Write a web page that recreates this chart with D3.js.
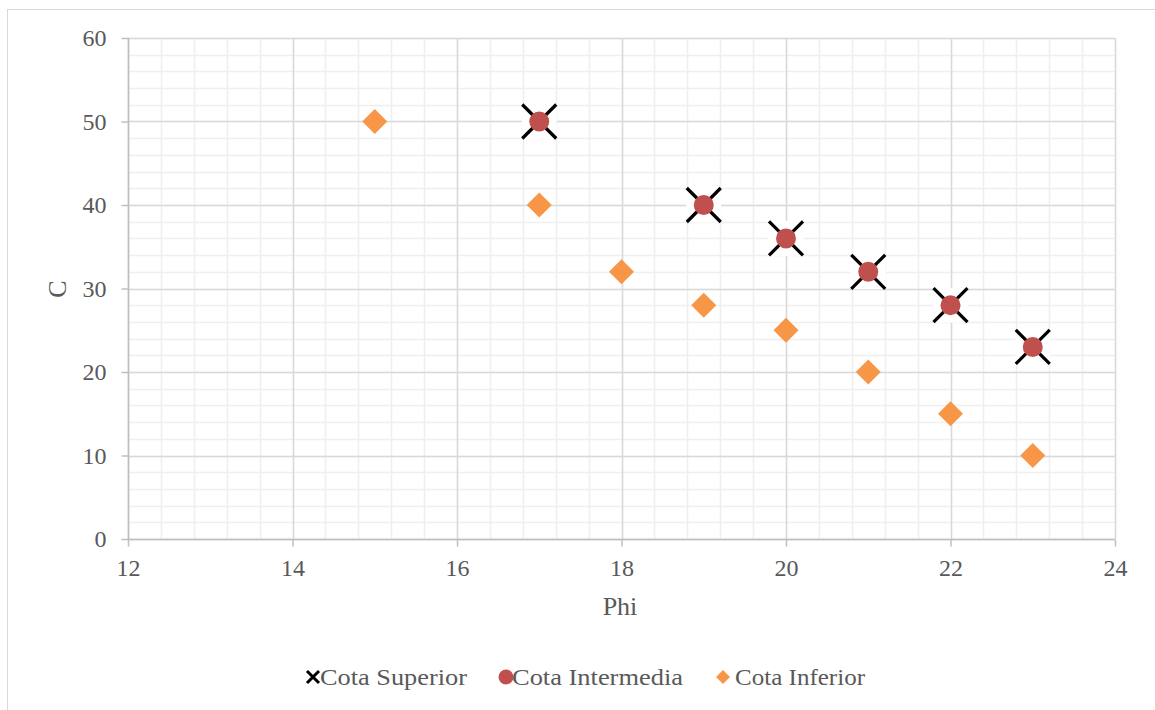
<!DOCTYPE html>
<html>
<head>
<meta charset="utf-8">
<script src="https://cdn.jsdelivr.net/npm/d3@7"></script>
<style>
  body { margin: 0; background: #fff; }
  text { font-family: "Liberation Serif", "DejaVu Serif", serif; fill: #595959; }
</style>
</head>
<body>
<div id="chart"></div>
<script>
// data
let supX = [17, 19, 20, 21, 22, 23];
let supY = [50, 40, 36, 32, 28, 23];
let intX = [17, 19, 20, 21, 22, 23];
let intY = [50, 40, 36, 32, 28, 23];
let infX = [15, 17, 18, 19, 20, 21, 22, 23];
let infY = [50, 40, 32, 28, 25, 20, 15, 10];
let xTicks = [12, 14, 16, 18, 20, 22, 24];
let yTicks = [0, 10, 20, 30, 40, 50, 60];
let seriesNames = ["Cota Superior", "Cota Intermedia", "Cota Inferior"];

let width = 1155, height = 710;
let margin = {top: 38, left: 128, right: 40, bottom: 171};
let plotW = width - margin.left - margin.right;
let plotH = height - margin.top - margin.bottom;

let svg = d3.select("#chart").append("svg")
    .attr("width", width)
    .attr("height", height);

// outer chart frame (runs off the page at right and bottom)
svg.append("rect")
    .attr("x", 7.5).attr("y", 9.5)
    .attr("width", 1160).attr("height", 720)
    .attr("fill", "#fff").attr("stroke", "#d9d9d9");

let x = d3.scaleLinear().domain([12, 24]).range([margin.left, margin.left + plotW]);
let y = d3.scaleLinear().domain([0, 60]).range([margin.top + plotH, margin.top]);

let g = svg.append("g");

// minor grid
let xMinor = d3.range(12, 24.001, 0.4);
let yMinor = d3.range(0, 60.001, 2);
g.selectAll("line.xm").data(xMinor).enter().append("line")
    .attr("x1", d => Math.round(x(d)) + 0.5).attr("x2", d => Math.round(x(d)) + 0.5)
    .attr("y1", y(0)).attr("y2", y(60))
    .attr("stroke", "#efefef").attr("stroke-width", 1.5);
g.selectAll("line.ym").data(yMinor).enter().append("line")
    .attr("y1", d => Math.round(y(d)) + 0.5).attr("y2", d => Math.round(y(d)) + 0.5)
    .attr("x1", x(12)).attr("x2", x(24))
    .attr("stroke", "#efefef").attr("stroke-width", 1.5);

// major grid
g.selectAll("line.xg").data(xTicks).enter().append("line")
    .attr("x1", d => Math.round(x(d)) + 0.5).attr("x2", d => Math.round(x(d)) + 0.5)
    .attr("y1", y(0)).attr("y2", y(60))
    .attr("stroke", "#d9d9d9").attr("stroke-width", 1.5);
g.selectAll("line.yg").data(yTicks).enter().append("line")
    .attr("y1", d => Math.round(y(d)) + 0.5).attr("y2", d => Math.round(y(d)) + 0.5)
    .attr("x1", x(12)).attr("x2", x(24))
    .attr("stroke", "#d9d9d9").attr("stroke-width", 1.5);

// axes
let xAxis = d3.axisBottom(x).tickValues(xTicks).tickSize(7).tickPadding(12);
let yAxis = d3.axisLeft(y).tickValues(yTicks).tickSize(7).tickPadding(15);

let gx = svg.append("g").attr("transform", "translate(0," + (Math.round(y(0)) + 0.5) + ")").call(xAxis);
let gy = svg.append("g").attr("transform", "translate(" + (Math.round(x(12)) + 0.5) + ",0)").call(yAxis);
[gx, gy].forEach(a => {
    a.select(".domain").attr("stroke", "#bfbfbf").attr("stroke-width", 1.5);
    a.selectAll(".tick line").attr("stroke", "#bfbfbf").attr("stroke-width", 1.5);
    a.selectAll(".tick text").style("font-family", "Liberation Serif, serif")
        .attr("font-size", 24).attr("fill", "#595959");
});
gx.select(".domain").attr("d", "M" + x(12) + ",0H" + x(24));
gy.select(".domain").attr("d", "M0," + y(0) + "V" + y(60));

// axis titles
svg.append("text").attr("x", 620).attr("y", 615)
    .attr("text-anchor", "middle").attr("font-size", 26).text("Phi");
svg.append("text").attr("transform", "translate(66,289) rotate(-90)")
    .attr("text-anchor", "middle").attr("font-size", 26).text("C");

let sup = supX.map((v, i) => [v, supY[i]]);
let mid = intX.map((v, i) => [v, intY[i]]);
let inf = infX.map((v, i) => [v, infY[i]]);

// Cota Inferior - diamonds
svg.append("g").selectAll("path").data(inf).enter().append("path")
    .attr("transform", d => "translate(" + x(d[0]) + "," + y(d[1]) + ")")
    .attr("d", "M0,-12.5L12.5,0L0,12.5L-12.5,0Z")
    .attr("fill", "#f79646");

// Cota Superior - X with white backing
let xs = svg.append("g").selectAll("g").data(sup).enter().append("g")
    .attr("transform", d => "translate(" + x(d[0]) + "," + y(d[1]) + ")");
xs.append("rect").attr("x", -17.5).attr("y", -17.5).attr("width", 35).attr("height", 35).attr("fill", "#fff");
xs.append("path").attr("d", "M-17,-17L17,17M17,-17L-17,17")
    .attr("stroke", "#000").attr("stroke-width", 3.2);

// Cota Intermedia - circles
svg.append("g").selectAll("circle").data(mid).enter().append("circle")
    .attr("cx", d => x(d[0])).attr("cy", d => y(d[1])).attr("r", 10)
    .attr("fill", "#c0504d");

// legend
let legendX = [313, 506, 723];
let textX = [320, 512, 735];
let textW = [147, 171, 130];
let ly = 677;
let leg = svg.append("g");
leg.append("path").attr("d", "M" + (legendX[0] - 6) + "," + (ly - 6) + "l12,12m0,-12l-12,12")
    .attr("stroke", "#000").attr("stroke-width", 3);
leg.append("circle").attr("cx", legendX[1]).attr("cy", ly).attr("r", 7.5).attr("fill", "#c0504d");
leg.append("path").attr("d", "M" + legendX[2] + "," + (ly - 7) + "l7,7l-7,7l-7,-7z").attr("fill", "#f79646");
leg.selectAll("text").data(seriesNames).enter().append("text")
    .attr("x", (d, i) => textX[i]).attr("y", ly + 8)
    .attr("font-size", 24)
    .attr("textLength", (d, i) => textW[i]).attr("lengthAdjust", "spacingAndGlyphs")
    .text(d => d);
</script>
</body>
</html>
